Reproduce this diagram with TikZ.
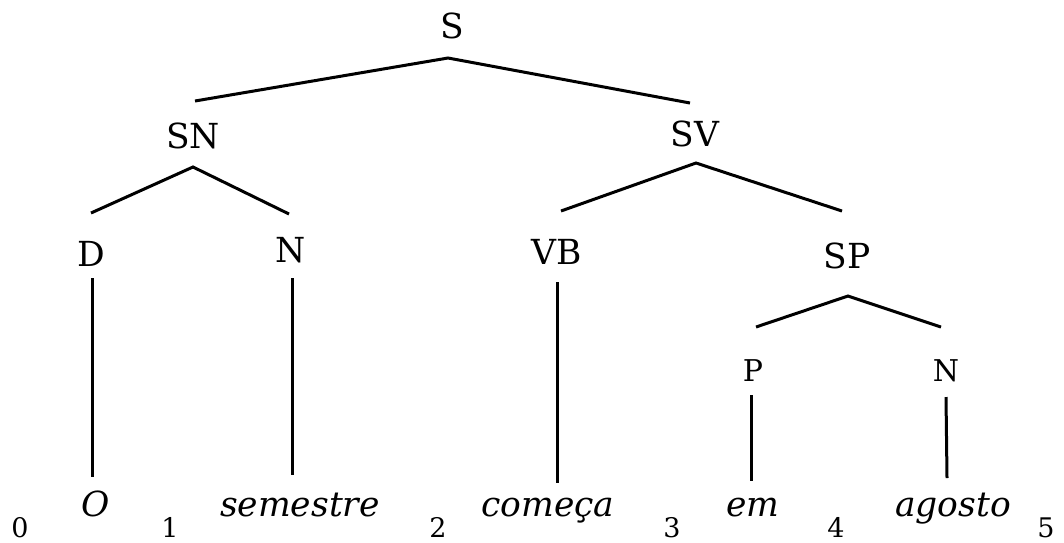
\documentclass[tikz,border=0pt]{standalone}
\usepackage{fontspec}
\setmainfont{DejaVu Serif}
\begin{document}
\begin{tikzpicture}[x=1pt,y=-1pt,
  cat/.style={anchor=base,inner sep=0pt,font=\fontsize{34.5}{38}\selectfont},
  catsm/.style={anchor=base,inner sep=0pt,font=\fontsize{30}{34}\selectfont},
  word/.style={anchor=base,inner sep=0pt,font=\fontsize{34.5}{38}\selectfont\itshape},
  idx/.style={anchor=base,inner sep=0pt,font=\fontsize{27}{30}\selectfont},
  edge/.style={line width=3pt}]
\path[use as bounding box] (0,0) rectangle (1064,542);
% categories
\node[cat] (S) at (452,38) {S};
\node[cat] (SN) at (193,148) {SN};
\node[cat] (SV) at (695,146) {SV};
\node[cat] (D) at (91,266) {D};
\node[cat] (N1) at (291,262) {N};
\node[cat] (VB) at (557,264) {VB};
\node[cat] (SP) at (847,268) {SP};
\node[catsm] (P) at (753,381) {P};
\node[catsm] (N2) at (946,381) {N};
% words
\node[word] (w1) at (96,516) {O};
\node[word] (w2) at (300,516) {semestre};
\node[word] (w3) at (548,516) {começa};
\node[word] (w4) at (753,516) {em};
\node[word] (w5) at (953,516) {agosto};
% indices
\node[idx] (i0) at (20,537) {0};
\node[idx] (i1) at (170,537) {1};
\node[idx] (i2) at (438,537) {2};
\node[idx] (i3) at (672,537) {3};
\node[idx] (i4) at (836,537) {4};
\node[idx] (i5) at (1046,537) {5};
% edges
\draw[edge] ([shift={(2,-47)}]SN.base) -- ([shift={(-4,20)}]S.base) -- ([shift={(-5,-43)}]SV.base);
\draw[edge] ([shift={(-102,65)}]SN.base) -- ([shift={(0,19)}]SN.base) -- ([shift={(96,66)}]SN.base);
\draw[edge] ([shift={(-134,65)}]SV.base) -- ([shift={(1,17)}]SV.base) -- ([shift={(147,65)}]SV.base);
\draw[edge] ([shift={(-91,59)}]SP.base) -- ([shift={(1,28)}]SP.base) -- ([shift={(94,59)}]SP.base);
\draw[edge] ([shift={(1,12)}]D.base) -- ([shift={(-4,-39)}]w1.base);
\draw[edge] ([shift={(1,16)}]N1.base) -- ([shift={(-8,-41)}]w2.base);
\draw[edge] ([shift={(0,18)}]VB.base) -- ([shift={(9,-33)}]w3.base);
\draw[edge] ([shift={(-2,14)}]P.base) -- ([shift={(-2,-35)}]w4.base);
\draw[edge] ([shift={(0,16)}]N2.base) -- ([shift={(-6,-38)}]w5.base);
\end{tikzpicture}
\end{document}
